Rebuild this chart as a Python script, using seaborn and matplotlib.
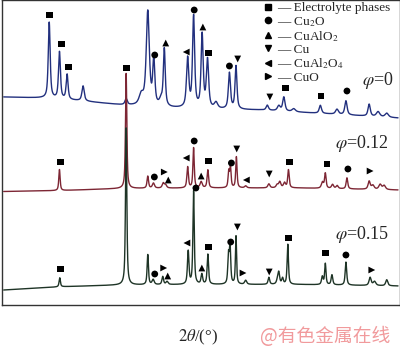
import numpy as np
import pandas as pd
import matplotlib
matplotlib.use("Agg")
import matplotlib.pyplot as plt
from matplotlib.lines import Line2D
import seaborn as sns

# ---- peak lists (2theta in deg, height above background) ----
blue_pos = [18.04, 19.85, 21.20, 24.02, 31.63, 34.30, 35.45, 36.51, 37.80, 38.37,
            42.49, 43.54, 45.05, 46.00, 47.50, 49.87, 51.03, 56.56, 58.60, 59.48,
            61.23, 65.93, 68.87, 70.45, 74.55, 76.13, 77.66]
blue_h = [76, 47, 25, 15, 6, 10, 94, 45, 6, 57,
          49, 91, 73, 48, 6, 36, 43, 5, 5, 14,
          3, 8, 5, 14, 12, 5, 4]
blue_w = [0.2, 0.2, 0.2, 0.24, 0.24, 0.45, 0.32, 0.22, 0.35, 0.2,
          0.24, 0.22, 0.22, 0.24, 0.35, 0.22, 0.2, 0.24, 0.3, 0.24,
          0.35, 0.24, 0.3, 0.24, 0.24, 0.35, 0.35]

red_pos = [19.85, 31.63, 35.45, 36.45, 38.19, 38.60, 42.49, 43.54, 44.88, 46.06,
           49.75, 50.05, 51.10, 52.74, 56.84, 58.30, 58.77, 59.60, 60.30, 66.30,
           66.81, 68.09, 68.90, 70.63, 74.55, 75.20, 76.50, 77.20]
red_h = [21, 115, 12, 5, 5, 3, 21, 40, 6, 18,
         16, 20, 31, 2, 4, 3, 6, 5, 18, 6,
         15, 4, 3, 11, 8, 4, 5, 4]
red_w = [0.14, 0.14, 0.16, 0.22, 0.22, 0.22, 0.16, 0.14, 0.22, 0.16,
         0.14, 0.14, 0.14, 0.22, 0.22, 0.22, 0.22, 0.22, 0.16, 0.22,
         0.16, 0.22, 0.22, 0.17, 0.22, 0.28, 0.28, 0.28]

green_pos = [19.90, 31.63, 35.45, 36.40, 38.09, 38.85, 42.59, 43.54, 45.00, 46.06,
             49.70, 49.98, 51.03, 52.74, 56.84, 58.40, 58.60, 59.25, 60.18, 66.28,
             66.81, 67.98, 70.45, 74.72, 75.50, 77.66]
green_h = [9, 157, 30, 5, 8, 3, 33, 93, 10, 30,
           28, 38, 48, 4, 7, 5, 10, 6, 40, 8,
           21, 10, 23, 8, 4, 6]
green_w = [0.14, 0.14, 0.14, 0.22, 0.17, 0.22, 0.16, 0.14, 0.17, 0.15,
           0.14, 0.14, 0.12, 0.22, 0.17, 0.22, 0.17, 0.17, 0.14, 0.17,
           0.14, 0.17, 0.16, 0.22, 0.28, 0.22]

# background levels (already stacked) at a few 2theta positions
bg_theta_blue = [10, 16.68, 23.72, 30.75, 39.55, 44.82, 55.37, 67.68, 79.65]
bg_blue = [208, 207, 204, 200, 197, 196, 195, 191, 187]
bg_theta = [10, 20.20, 30.75, 44.82, 62.41, 79.65]
bg_red = [113.5, 114.5, 116.5, 117, 117, 115]
bg_green = [15, 18.3, 20, 20.5, 20.5, 19]

# phase markers: (pattern, phase, 2theta, height)
mk_pattern = ["0"] * 15 + ["0.12"] * 17 + ["0.15"] * 16
mk_phase = ["E", "E", "E", "Cu2O", "CuAlO2", "CuAl2O4", "Cu2O", "CuAlO2", "E", "Cu2O",
            "Cu", "Cu", "E", "E", "Cu2O",
            "E", "E", "Cu2O", "CuO", "CuAlO2", "CuAl2O4", "Cu2O", "CuAlO2", "E", "Cu2O",
            "Cu", "CuAl2O4", "Cu", "E", "E", "Cu2O", "CuO",
            "E", "Cu2O", "CuO", "CuAlO2", "CuAl2O4", "Cu2O", "CuAlO2", "E", "Cu2O", "Cu",
            "CuO", "Cu", "E", "E", "Cu2O", "CuO"]
mk_theta = [18.14, 20.20, 21.43, 36.68, 38.62, 42.24, 43.65, 45.18, 46.18, 49.87,
            51.33, 57.01, 59.72, 66.05, 70.63,
            20.08, 31.63, 36.61, 38.37, 39.07, 42.24, 43.65, 44.88, 46.18, 50.22,
            51.16, 52.86, 56.90, 60.42, 67.11, 70.80, 74.72,
            20.08, 36.68, 38.26, 38.97, 42.36, 43.95, 45.00, 46.18, 50.10, 51.28,
            52.27, 56.90, 60.30, 66.81, 70.45, 75.02]
mk_height = [290, 261, 238, 250, 262, 253, 295, 278, 252, 239,
             246, 208, 217, 209, 214,
             143, 237, 128, 133, 125, 147, 164, 129, 144, 142,
             156, 125, 131, 143, 141, 136, 134,
             36, 31, 37, 29, 62, 117, 37, 58, 63, 78,
             32, 33, 67, 52, 50, 35]

legend_labels = ["Electrolyte phases", "Cu$_2$O", "CuAlO$_2$", "Cu", "CuAl$_2$O$_4$", "CuO"]
phase_order = ["E", "Cu2O", "CuAlO2", "Cu", "CuAl2O4", "CuO"]
phase_markers = {"E": "s", "Cu2O": "o", "CuAlO2": "^", "Cu": "v", "CuAl2O4": "<", "CuO": ">"}


def pattern(theta, pos, h, w, bg_t, bg_y):
    y = np.interp(theta, bg_t, bg_y)
    for c, a, g in zip(pos, h, w):
        lor = 1.0 / (1.0 + ((theta - c) / g) ** 2)
        gau = np.exp(-np.log(2) * ((theta - c) / g) ** 2)
        y = y + a * (0.7 * lor + 0.3 * gau)
    return y


theta = np.arange(10.0, 79.66, 0.01)
curves = pd.DataFrame({
    "theta": theta,
    "blue": pattern(theta, blue_pos, blue_h, blue_w, bg_theta_blue, bg_blue),
    "red": pattern(theta, red_pos, red_h, red_w, bg_theta, bg_red),
    "green": pattern(theta, green_pos, green_h, green_w, bg_theta, bg_green),
})
marks = pd.DataFrame({"pattern": mk_pattern, "phase": mk_phase,
                      "theta": mk_theta, "height": mk_height})

sns.set_style("white")
plt.rcParams["font.family"] = ["Liberation Serif", "DejaVu Serif"]
plt.rcParams["mathtext.fontset"] = "stix"

fig = plt.figure(figsize=(4.0, 3.53), dpi=100)
ax = fig.add_axes([0.005, 48 / 353, 0.995, 305 / 353])

sns.lineplot(data=curves, x="theta", y="blue", ax=ax, color="#22307e", lw=1.0,
             estimator=None, sort=False)
sns.lineplot(data=curves, x="theta", y="red", ax=ax, color="#7d2634", lw=1.0,
             estimator=None, sort=False)
sns.lineplot(data=curves, x="theta", y="green", ax=ax, color="#1e3426", lw=1.0,
             estimator=None, sort=False)
sns.scatterplot(data=marks, x="theta", y="height", style="phase", markers=phase_markers,
                style_order=phase_order, color="black", s=24, edgecolor="none",
                legend=False, ax=ax, zorder=5)

ax.set_xlim(9.7, 80)
ax.set_ylim(0, 305)
ax.set_xticks([])
ax.set_yticks([])
ax.set_xlabel("")
ax.set_ylabel("")
for sp in ax.spines.values():
    sp.set_color("#333333")
    sp.set_linewidth(1.0)

handles = [Line2D([], [], ls="none", marker=phase_markers[p], color="black", ms=4.5)
           for p in phase_order]
ax.legend(handles, ["\u2014 " + t for t in legend_labels], loc="upper left",
          bbox_to_anchor=(0.645, 1.01), frameon=False, fontsize=9.5,
          handlelength=0.6, handletextpad=0.4, labelspacing=0.02, borderaxespad=0)

ax.text(0.945, 0.735, r"$\varphi$=0", transform=ax.transAxes, ha="center", va="center",
        fontsize=13)
ax.text(0.905, 0.528, r"$\varphi$=0.12", transform=ax.transAxes, ha="center", va="center",
        fontsize=13)
ax.text(0.905, 0.23, r"$\varphi$=0.15", transform=ax.transAxes, ha="center", va="center",
        fontsize=13)

fig.text(198 / 400, 1 - 337 / 353, r"$2\theta$/(°)", ha="center", va="center", fontsize=12)
fig.text(325 / 400, 1 - 337 / 353, "@有色金属在线", ha="center", va="center", fontsize=13.5,
         color="#f19a9c", family=["Noto Sans CJK SC", "DejaVu Sans"])

fig.savefig("out.png", dpi=100)
